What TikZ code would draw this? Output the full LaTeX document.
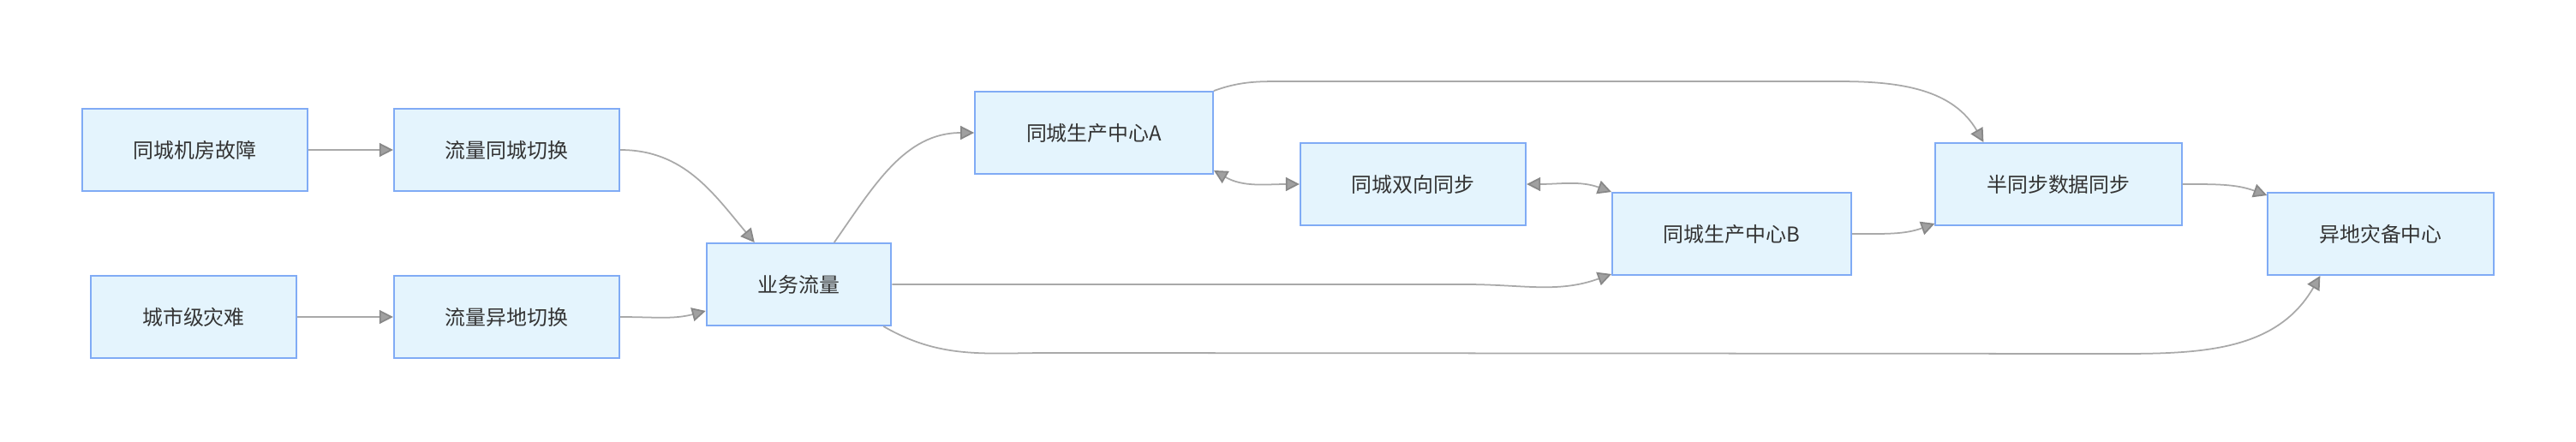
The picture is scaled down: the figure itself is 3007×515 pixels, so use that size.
\documentclass[tikz,border=0pt]{standalone}
\usepackage{fontspec}
\setmainfont{Noto Sans CJK SC}
\usetikzlibrary{arrows.meta,calc}
\definecolor{boxfill}{HTML}{E4F4FD}
\definecolor{boxline}{HTML}{80ABF5}
\definecolor{edgeline}{HTML}{A9A9A9}
\definecolor{tipfill}{HTML}{A0A0A0}
\definecolor{labeltext}{HTML}{333333}
\tikzset{
	>={Triangle[length=0.32cm,width=0.32cm,fill=tipfill,color=tipfill!85!black]},
	box/.style={draw=boxline, fill=boxfill, line width=1.1pt, text=labeltext, inner xsep=1.2cm, inner ysep=0pt, minimum height=1.92cm, font=\fontsize{13.6pt}{16pt}\selectfont},
	flow/.style={draw=edgeline, line width=1pt, ->},
	sync/.style={draw=edgeline, line width=1pt, <->}
}
\begin{document}
\begin{tikzpicture}[x=0.02cm, y=-0.02cm]
	\useasboundingbox (0,0) rectangle (3007,515);
	\node[box] (fault) at (227.5,175) {同城机房故障};
	\node[box] (swlocal) at (591.5,175) {流量同城切换};
	\node[box] (citydis) at (226,370) {城市级灾难};
	\node[box] (swremote) at (591.5,370) {流量异地切换};
	\node[box] (traffic) at (932.5,332) {业务流量};
	\node[box] (dcA) at (1277,155) {同城生产中心A};
	\node[box] (bisync) at (1649.5,215) {同城双向同步};
	\node[box] (dcB) at (2021.5,273) {同城生产中心B};
	\node[box] (semisync) at (2403,215) {半同步数据同步};
	\node[box] (drsite) at (2779,273) {异地灾备中心};

	\draw[flow] (fault) -- (swlocal);
	\draw[flow] (citydis) -- (swremote);
	\draw[flow] (swlocal.east) to[out=0,in=130] ($(traffic.north west)+(57,0)$);
	\draw[flow] (swremote.east) to[out=0,in=195] ($(traffic.south west)+(0,-18)$);
	\draw[flow] ($(traffic.north west)+(150,0)$) to[out=55,in=180] (dcA.west);
	\draw[sync] ($(dcA.south east)+(0,-5)$) to[out=-30,in=180] (bisync.west);
	\draw[sync] (bisync.east) to[out=0,in=160] (dcB.north west);
	\draw[flow] (traffic.east) -- ($(traffic.east -| dcB.west)+(-170,0)$) to[out=0,in=200] ($(dcB.south west)+(0,-2)$);
	\draw[flow] (dcA.north east) to[out=20,in=180] ($(dcA.north east)+(90,-11)$) -- ($(semisync.north west)+(-110,-71)$) to[out=0,in=120] ($(semisync.north west)+(57,0)$);
	\draw[flow] (dcB.east) to[out=0,in=200] ($(semisync.south west)+(0,-3)$);
	\draw[flow] (semisync.east) to[out=0,in=160] ($(drsite.north west)+(0,4)$);
	\draw[flow] ($(traffic.south east)+(-10,0)$) to[out=-30,in=180] ($(traffic.south east)+(185,31)$) -- ($(drsite.south west)+(-205,91)$) to[out=0,in=-120] ($(drsite.south west)+(62,0)$);
\end{tikzpicture}
\end{document}
